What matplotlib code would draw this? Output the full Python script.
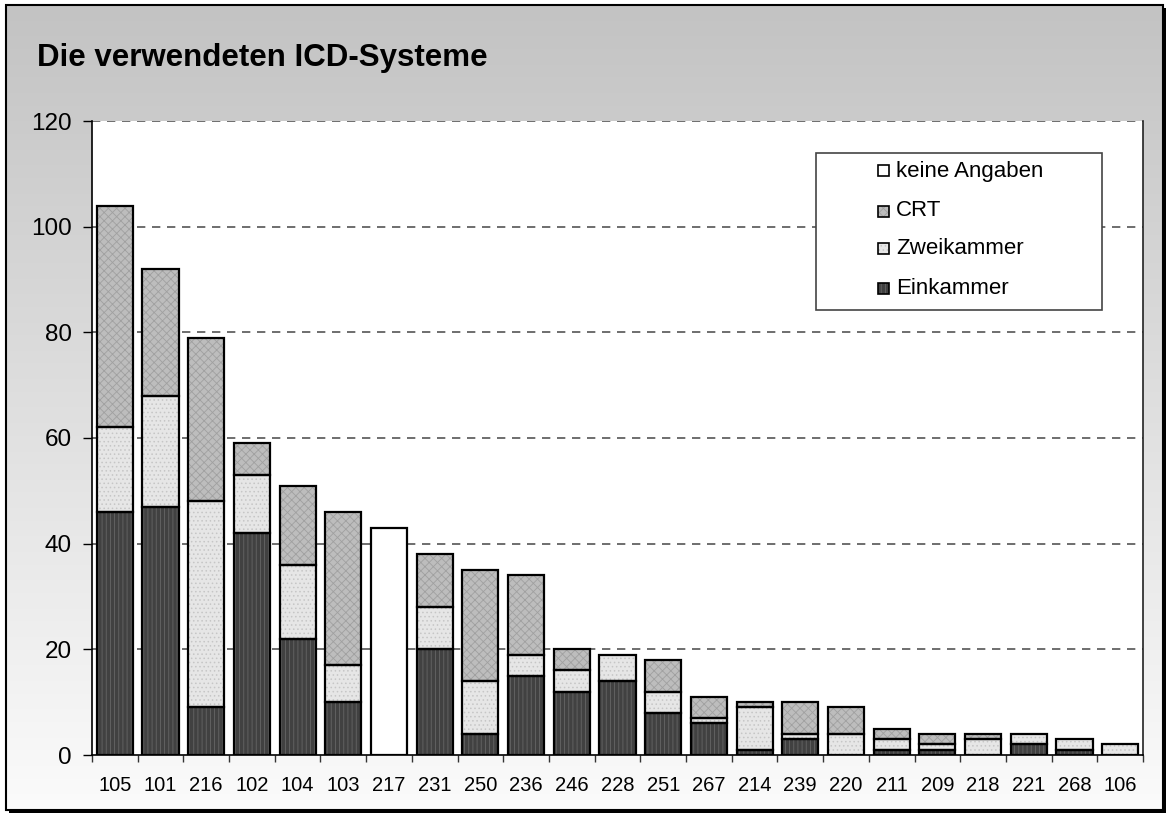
import numpy as np
import matplotlib
matplotlib.use("Agg")
import matplotlib.pyplot as plt
from matplotlib.patches import Rectangle
from matplotlib.colors import LinearSegmentedColormap

plt.rcParams['font.family'] = ['Liberation Sans', 'DejaVu Sans']
plt.rcParams['hatch.linewidth'] = 0.6

# ---- data ----
categories = ['105', '101', '216', '102', '104', '103', '217', '231', '250', '236', '246',
              '228', '251', '267', '214', '239', '220', '211', '209', '218', '221', '268', '106']
einkammer = [46, 47, 9, 42, 22, 10, 0, 20, 4, 15, 12, 14, 8, 6, 1, 3, 0, 1, 1, 0, 2, 1, 0]
zweikammer = [16, 21, 39, 11, 14, 7, 0, 8, 10, 4, 4, 5, 4, 1, 8, 1, 4, 2, 1, 3, 2, 2, 2]
crt = [42, 24, 31, 6, 15, 29, 0, 10, 21, 15, 4, 0, 6, 4, 1, 6, 5, 2, 2, 1, 0, 0, 0]
keine_angaben = [0, 0, 0, 0, 0, 0, 43, 0, 0, 0, 0, 0, 0, 0, 0, 0, 0, 0, 0, 0, 0, 0, 0]
series_names = ['Einkammer', 'Zweikammer', 'CRT', 'keine Angaben']
yticks = [0, 20, 40, 60, 80, 100, 120]
title = 'Die verwendeten ICD-Systeme'

styles = {
    'Einkammer': dict(fc='#414141', hc='#666666', hatch='||||'),
    'Zweikammer': dict(fc='#e6e6e6', hc='#c6c6c6', hatch='....'),
    'CRT': dict(fc='#bdbdbd', hc='#a0a0a0', hatch='xxxx'),
    'keine Angaben': dict(fc='#ffffff', hc='#ffffff', hatch=None),
}

W, H = 1169, 815
fig = plt.figure(figsize=(W / 100, H / 100), dpi=100)

# background with gradient and frame
bg = fig.add_axes([0, 0, 1, 1], zorder=-5)
bg.set_xlim(0, W)
bg.set_ylim(H, 0)
bg.axis('off')
grad = np.linspace(0, 1, 256).reshape(-1, 1)
cmap = LinearSegmentedColormap.from_list('g', ['#c3c3c3', '#fbfbfb'])
fx0, fy0, fx1, fy1 = 6, 5, 1163, 810
bg.add_patch(Rectangle((fx0 + 3, fy0 + 3), fx1 - fx0, fy1 - fy0, fc='black', ec='none'))
bg.imshow(grad, cmap=cmap, aspect='auto', extent=(fx0, fx1, fy1, fy0), zorder=1)
bg.add_patch(Rectangle((fx0, fy0), fx1 - fx0, fy1 - fy0, fc='none', ec='black', lw=1.5, zorder=2))
bg.text(37, 66, title, fontsize=22.5, fontweight='bold', va='baseline', ha='left', zorder=3)

# main axes
L, R, T, B = 92, 1143, 121, 755
ax = fig.add_axes([L / W, 1 - B / H, (R - L) / W, (B - T) / H])
ax.set_facecolor('white')
x = np.arange(len(categories))
width = 0.79
bottom = np.zeros(len(categories))
data = {'Einkammer': einkammer, 'Zweikammer': zweikammer, 'CRT': crt, 'keine Angaben': keine_angaben}
for name in series_names:
    vals = np.array(data[name], dtype=float)
    st = styles[name]
    mask = vals > 0
    ax.bar(x[mask], vals[mask], width, bottom=bottom[mask], color=st['fc'], edgecolor=st['hc'],
           hatch=st['hatch'], linewidth=0, zorder=3)
    ax.bar(x[mask], vals[mask], width, bottom=bottom[mask], fill=False, edgecolor='black',
           linewidth=1.6, zorder=4)
    bottom += vals

ax.set_xlim(-0.5, len(categories) - 0.5)
ax.set_ylim(0, 120)
ax.set_yticks(yticks)
ax.set_yticklabels([str(v) for v in yticks], fontsize=17.5)
ax.tick_params(axis='y', length=6.5, width=1, pad=8, colors='black')
ax.set_xticks(x)
ax.set_xticklabels(categories, fontsize=14.5)
ax.tick_params(axis='x', which='major', length=0, pad=15)
ax.set_xticks(np.arange(len(categories) + 1) - 0.5, minor=True)
ax.tick_params(axis='x', which='minor', length=5, width=1, color='#333333')
for yv in yticks[1:]:
    ax.axhline(yv, color='#555555', lw=1.2, ls=(0, (5, 4)), zorder=1)
ax.spines['top'].set_visible(False)
ax.spines['right'].set_color('#222222')
ax.spines['right'].set_linewidth(1.2)
ax.spines['left'].set_linewidth(1.2)
ax.spines['bottom'].set_linewidth(1.2)

# legend (drawn in axes coordinates)
lx0, lx1, ly0, ly1 = (816 - L) / (R - L), (1102 - L) / (R - L), (B - 310) / (B - T), (B - 153) / (B - T)
ax.add_patch(Rectangle((lx0, ly0), lx1 - lx0, ly1 - ly0, transform=ax.transAxes, fc='white',
                       ec='#444444', lw=1.2, zorder=6))
leg_order = ['keine Angaben', 'CRT', 'Zweikammer', 'Einkammer']
leg_y = [171, 211, 249, 288]
mw, mh = 11 / (R - L), 11 / (B - T)
mx = (878 - L) / (R - L)
tx = (896 - L) / (R - L)
for name, yy in zip(leg_order, leg_y):
    yc = (B - yy) / (B - T)
    st = styles[name]
    ax.add_patch(Rectangle((mx, yc - mh / 2), mw, mh, transform=ax.transAxes, fc=st['fc'],
                           ec=st['hc'], hatch=st['hatch'], lw=0, zorder=7))
    ax.add_patch(Rectangle((mx, yc - mh / 2), mw, mh, transform=ax.transAxes, fill=False,
                           ec='black', lw=1.2, zorder=8))
    ax.text(tx, yc, name, transform=ax.transAxes, fontsize=16, va='center', ha='left', zorder=8)

fig.savefig('out.png', dpi=100)
